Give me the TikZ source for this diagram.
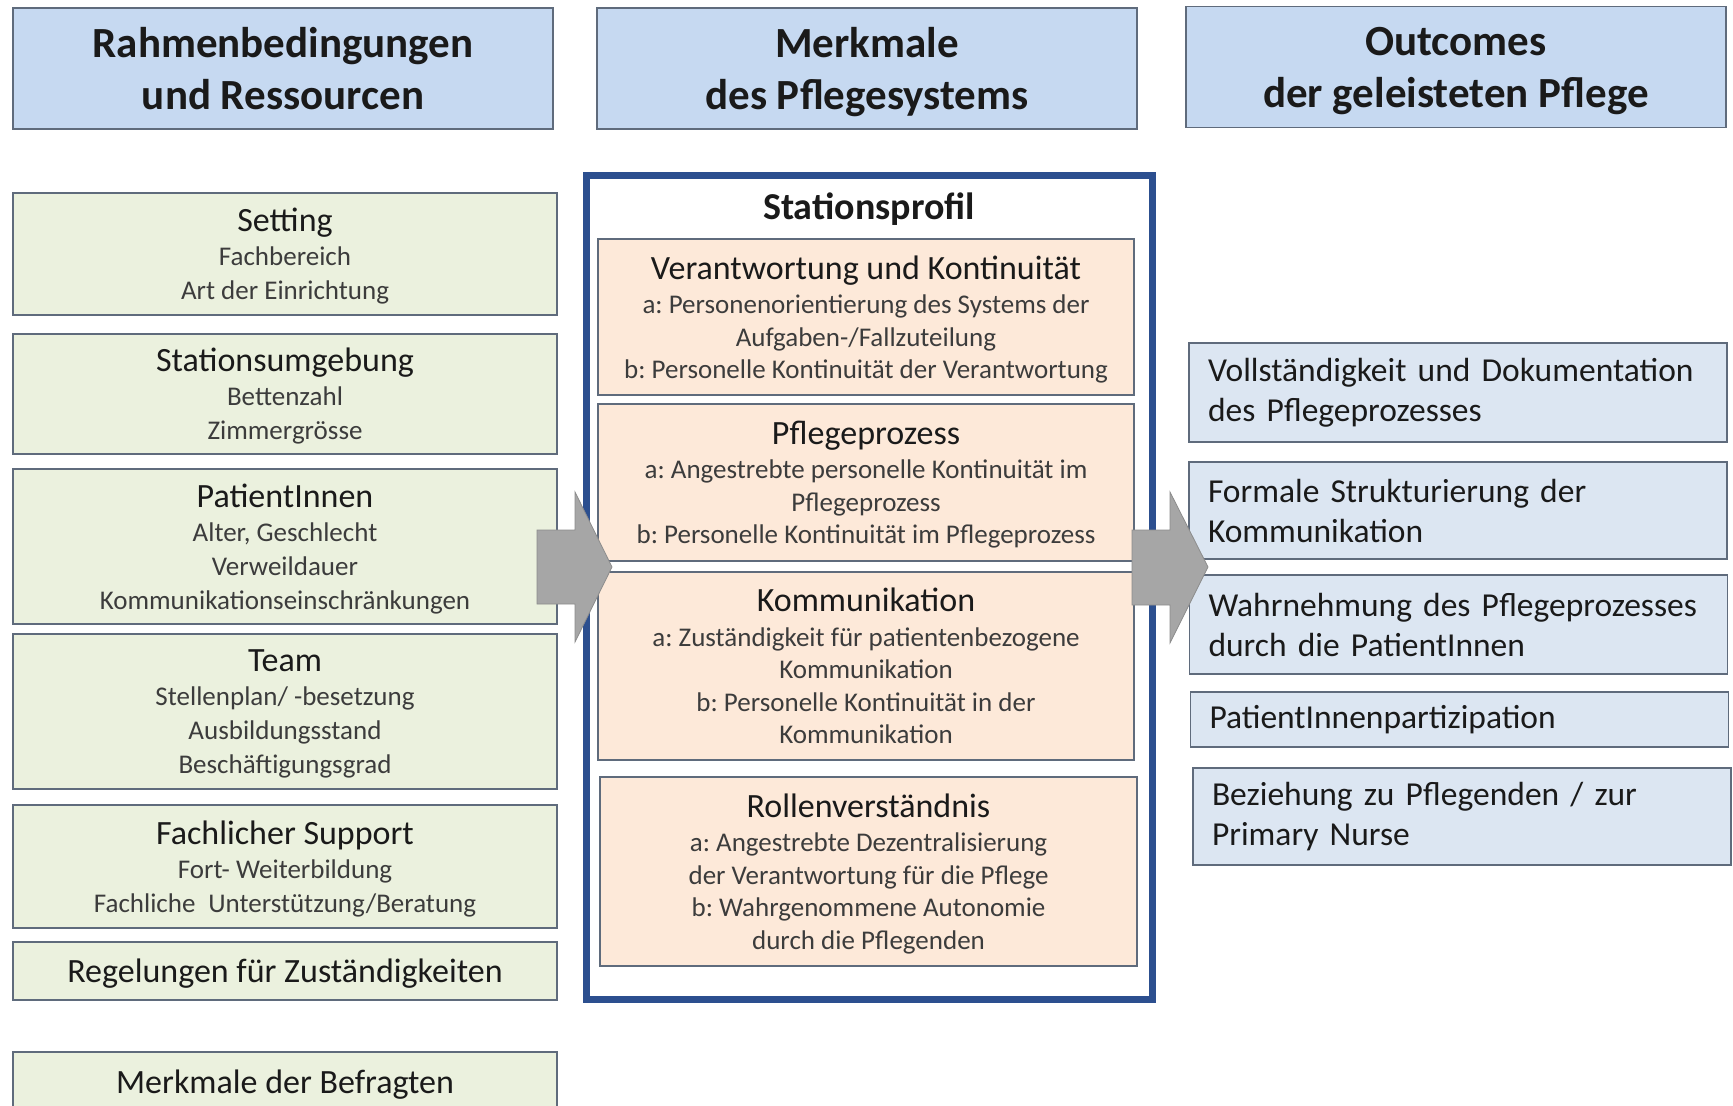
\documentclass[tikz,border=0pt]{standalone}
\usepackage{fontspec}
\setmainfont{Carlito}
\usepackage{tikz}

\definecolor{headblue}{HTML}{C6D9F1}
\definecolor{condgreen}{HTML}{EBF1DE}
\definecolor{profpeach}{HTML}{FDE9D9}
\definecolor{outblue}{HTML}{DCE6F2}
\definecolor{boxline}{HTML}{5F6B7C}
\definecolor{framblue}{HTML}{2C4F8F}
\definecolor{arrgray}{HTML}{A6A6A6}
\definecolor{arrline}{HTML}{8C8C8C}
\definecolor{textdark}{HTML}{1A1A1A}
\definecolor{subgray}{HTML}{3C3C3C}

\tikzset{
    headbox/.style={draw=boxline, fill=headblue, line width=1.5pt, minimum width=540pt, minimum height=121pt,
        text depth=0pt, align=center, text=textdark, font=\fontsize{43}{52}\selectfont\bfseries},
    condbox/.style={draw=boxline, fill=condgreen, line width=1.5pt, minimum width=544pt,
        text depth=0pt, align=center, text=subgray, font=\fontsize{27}{34}\selectfont},
    profbox/.style={draw=boxline, fill=profpeach, line width=1.5pt, minimum width=536pt,
        text depth=0pt, align=center, text=subgray, font=\fontsize{27}{32.5}\selectfont},
    outbox/.style={draw=boxline, fill=outblue, line width=1.5pt, text width=500pt, inner xsep=19pt,
        align=left, text=textdark, font=\fontsize{33.5}{40}\selectfont},
    blockarrow/.style={fill=arrgray, draw=arrline, line width=0.8pt, line join=miter}
}
\newcommand{\boxtitle}[1]{{\fontsize{34}{34}\selectfont\color{textdark}#1}}

\begin{document}
\frenchspacing
\begin{tikzpicture}[x=1pt, y=-1pt]
    \useasboundingbox (0,0) rectangle (1733,1106);

    % Column headers
    \node[headbox] (hcond) at (283,68.5) {Rahmenbedingungen\\und Ressourcen};
    \node[headbox] (hprof) at (867,68.5) {Merkmale\\des Pflegesystems};
    \node[headbox] (hout) at (1456,67) {Outcomes\\der geleisteten Pflege};

    % Left column: conditions and resources
    \node[condbox, minimum height=122pt] (setting) at (285,254)
        {\boxtitle{Setting}\\Fachbereich\\Art der Einrichtung};
    \node[condbox, minimum height=120pt] (umgebung) at (285,394)
        {\boxtitle{Stationsumgebung}\\Bettenzahl\\Zimmergrösse};
    \node[condbox, minimum height=155pt] (patienten) at (285,546.5)
        {\boxtitle{PatientInnen}\\Alter, Geschlecht\\Verweildauer\\Kommunikationseinschränkungen};
    \node[condbox, minimum height=155pt] (team) at (285,711.5)
        {\boxtitle{Team}\\Stellenplan/ -besetzung\\Ausbildungsstand\\Beschäftigungsgrad};
    \node[condbox, minimum height=123pt] (support) at (285,866.5)
        {\boxtitle{Fachlicher Support}\\Fort- Weiterbildung\\Fachliche\hspace{0.25em} Unterstützung/Beratung};
    \node[condbox, minimum height=58pt] (regeln) at (285,971)
        {\boxtitle{Regelungen für Zuständigkeiten}};
    \node[condbox, minimum height=60pt] (befragte) at (285,1082)
        {\boxtitle{Merkmale der Befragten}};

    % Middle: frame with the ward profile
    \node[draw=framblue, line width=7pt, minimum width=566pt, minimum height=824pt] (profil) at (869.5,587) {};
    \node[text=textdark, font=\fontsize{38}{38}\selectfont\bfseries] (ptitle) at (869,209) {Stationsprofil};
    \node[profbox, minimum height=156pt] (verantw) at (866,317)
        {\boxtitle{Verantwortung und Kontinuität}\\[2pt]a: Personenorientierung des Systems der\\Aufgaben-/Fallzuteilung\\b: Personelle Kontinuität der Verantwortung};
    \node[profbox, minimum height=157pt] (prozess) at (866,482.5)
        {\boxtitle{Pflegeprozess}\\[2pt]a: Angestrebte personelle Kontinuität im\\Pflegeprozess\\b: Personelle Kontinuität im Pflegeprozess};
    \node[profbox, minimum height=188pt] (kommu) at (866,666)
        {\boxtitle{Kommunikation}\\[2pt]a: Zuständigkeit für patientenbezogene\\Kommunikation\\b: Personelle Kontinuität in der\\Kommunikation};
    \node[profbox, minimum height=189pt, minimum width=537pt] (rollen) at (868.5,871.5)
        {\boxtitle{Rollenverständnis}\\[2pt]a: Angestrebte Dezentralisierung\\der Verantwortung für die Pflege\\b: Wahrgenommene Autonomie\\durch die Pflegenden};

    % Right column: outcomes
    \node[outbox, minimum height=99pt] (voll) at (1458,392.5)
        {Vollständigkeit und Dokumentation\\des Pflegeprozesses};
    \node[outbox, minimum height=97pt] (formal) at (1458,510.5)
        {Formale Strukturierung der\\Kommunikation};
    \node[outbox, minimum height=99pt] (wahrn) at (1458.5,624.5)
        {Wahrnehmung des Pflegeprozesses\\durch die PatientInnen};
    \node[outbox, minimum height=55pt] (partiz) at (1459.5,719.5)
        {PatientInnenpartizipation};
    \node[outbox, minimum height=97pt] (bezieh) at (1462,816.5)
        {Beziehung zu Pflegenden / zur\\Primary Nurse};

    % Block arrows
    \coordinate (arrLs) at (537,567);
    \coordinate (arrLt) at (612,567);
    \coordinate (arrRs) at (1132,567);
    \coordinate (arrRt) at (1208,567);
    \filldraw[blockarrow] (arrLs) ++(0,-37) -- ++(38,0) -- ++(0,-38) -- (arrLt) -- ++(-37,75) -- ++(0,-38) -- ++(-38,0) -- cycle;
    \filldraw[blockarrow] (arrRs) ++(0,-37) -- ++(38,0) -- ++(0,-38) -- (arrRt) -- ++(-38,76) -- ++(0,-38) -- ++(-38,0) -- cycle;

\end{tikzpicture}
\end{document}
